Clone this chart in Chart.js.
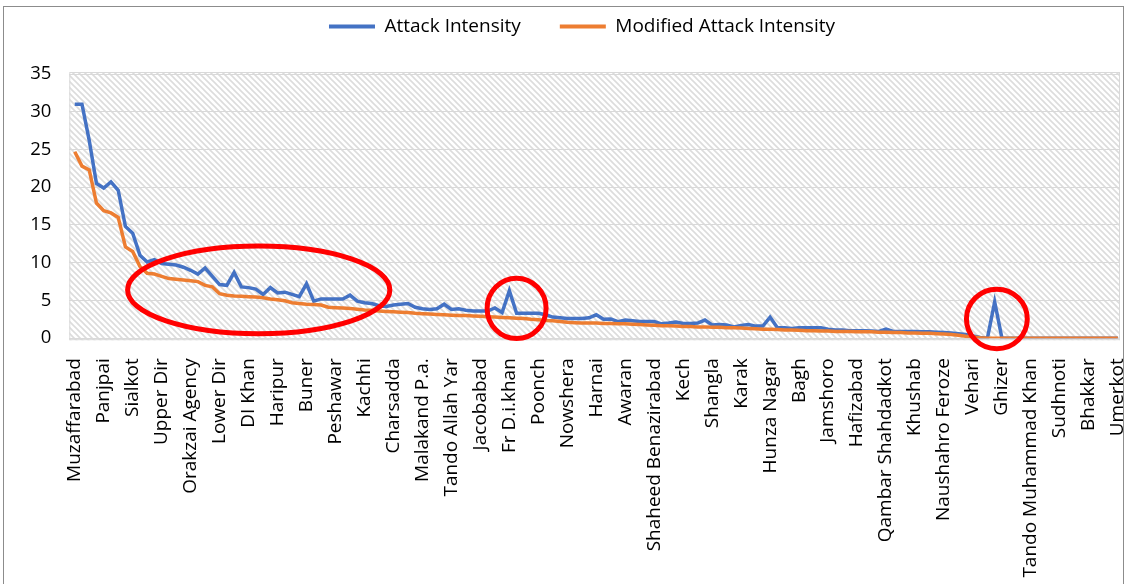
<!DOCTYPE html>
<html>
<head>
<meta charset="utf-8">
<script src="https://cdn.jsdelivr.net/npm/chart.js@4.4.1/dist/chart.umd.min.js"></script>
<style>
    html, body { margin: 0; padding: 0; background: #fff; }
    #wrap { width: 1127px; height: 584px; }
</style>
</head>
<body>
<div id="wrap"><canvas id="attackChart" width="1127" height="584"></canvas></div>
<script>
// Districts shown on the axis (every 4th category)
const districts = [
    "Muzaffarabad", "Panjpai", "Sialkot", "Upper Dir", "Orakzai Agency", "Lower Dir",
    "DI Khan", "Haripur", "Buner", "Peshawar", "Kachhi", "Charsadda", "Malakand P.a.",
    "Tando Allah Yar", "Jacobabad", "Fr D.i.khan", "Poonch", "Nowshera", "Harnai",
    "Awaran", "Shaheed Benazirabad", "Kech", "Shangla", "Karak", "Hunza Nagar", "Bagh",
    "Jamshoro", "Hafizabad", "Qambar Shahdadkot", "Khushab", "Naushahro Feroze",
    "Vehari", "Ghizer", "Tando Muhammad Khan", "Sudhnoti", "Bhakkar", "Umerkot"
];
const labelStep = 4;

const attackIntensity = [
    31.0, 31.0, 26.2, 20.5, 19.9, 20.7, 19.6, 14.8, 13.9, 11.0,
    10.1, 10.4, 9.9, 9.8, 9.7, 9.4, 9.0, 8.5, 9.3, 8.2,
    7.1, 7.0, 8.7, 6.8, 6.7, 6.5, 5.8, 6.7, 6.0, 6.1,
    5.8, 5.5, 7.2, 4.9, 5.2, 5.2, 5.2, 5.2, 5.7, 4.9,
    4.7, 4.6, 4.3, 4.2, 4.4, 4.5, 4.6, 4.1, 3.9, 3.8,
    3.9, 4.5, 3.8, 3.9, 3.7, 3.6, 3.6, 3.6, 4.0, 3.4,
    6.3, 3.3, 3.3, 3.3, 3.3, 3.1, 2.8, 2.7, 2.6, 2.6,
    2.6, 2.7, 3.1, 2.5, 2.55, 2.2, 2.4, 2.3, 2.2, 2.2,
    2.2, 1.9, 2.0, 2.15, 1.95, 1.95, 2.0, 2.4, 1.75, 1.8,
    1.75, 1.5, 1.7, 1.8, 1.6, 1.6, 2.8, 1.4, 1.4, 1.3,
    1.4, 1.4, 1.4, 1.4, 1.2, 1.1, 1.1, 1.0, 1.0, 1.0,
    0.95, 0.9, 1.2, 0.9, 0.9, 0.9, 0.9, 0.85, 0.85, 0.8,
    0.75, 0.7, 0.6, 0.5, 0.3, 0.1, 0, 4.8, 0, 0,
    0, 0, 0, 0, 0, 0, 0, 0, 0, 0,
    0, 0, 0, 0, 0
];

const modifiedIntensity = [
    24.7, 22.8, 22.3, 17.9, 16.9, 16.6, 16.0, 12.1, 11.5, 9.5,
    8.6, 8.5, 8.2, 7.9, 7.8, 7.7, 7.6, 7.5, 7.0, 6.8,
    5.9, 5.7, 5.6, 5.55, 5.5, 5.45, 5.35, 5.2, 5.1, 4.95,
    4.7, 4.6, 4.5, 4.45, 4.4, 4.1, 4.05, 4.0, 3.95, 3.85,
    3.75, 3.7, 3.6, 3.55, 3.5, 3.45, 3.4, 3.3, 3.25, 3.2,
    3.15, 3.1, 3.05, 3.0, 3.0, 2.95, 2.9, 2.85, 2.8, 2.75,
    2.7, 2.65, 2.6, 2.5, 2.45, 2.35, 2.3, 2.2, 2.1, 2.05,
    2.0, 2.0, 2.0, 1.95, 1.95, 1.9, 1.9, 1.85, 1.8, 1.75,
    1.7, 1.65, 1.65, 1.6, 1.55, 1.55, 1.5, 1.5, 1.45, 1.45,
    1.4, 1.4, 1.35, 1.3, 1.25, 1.2, 1.2, 1.15, 1.1, 1.1,
    1.05, 1.0, 1.0, 0.95, 0.95, 0.9, 0.9, 0.9, 0.85, 0.85,
    0.85, 0.8, 0.8, 0.75, 0.75, 0.7, 0.7, 0.65, 0.65, 0.6,
    0.55, 0.5, 0.4, 0.25, 0.15, 0.05, 0, 0, 0, 0,
    0, 0, 0, 0, 0, 0, 0, 0, 0, 0,
    0, 0, 0, 0, 0
];

// red highlight rings, in data units (category index, value)
const ringX = [25.4, 61.0, 127.3];
const ringY = [6.4, 3.95, 2.55];
const ringRx = [18.1, 4.07, 4.2];
const ringRy = [5.8, 4.0, 3.95];

// hatched plot background
const tile = document.createElement("canvas");
tile.width = 6;
tile.height = 6;
const tctx = tile.getContext("2d");
tctx.fillStyle = "#ffffff";
tctx.fillRect(0, 0, 6, 6);
tctx.strokeStyle = "#dcdcdc";
tctx.lineWidth = 1.6;
tctx.beginPath();
tctx.moveTo(-1, -1); tctx.lineTo(7, 7);
tctx.moveTo(-1, 5); tctx.lineTo(1, 7);
tctx.moveTo(5, -1); tctx.lineTo(7, 1);
tctx.stroke();

const backgroundPlugin = {
    id: "hatchBackground",
    afterLayout(chart) {
        // nudge the legend row up and right, like the original
        const lg = chart.legend;
        lg.top -= 28;
        lg.bottom -= 28;
        lg.left += 22;
        lg.right += 22;
    },
    beforeDraw(chart) {
        const { ctx, chartArea: a } = chart;
        ctx.save();
        ctx.fillStyle = "#fff";
        ctx.fillRect(0, 0, chart.width, chart.height);
        ctx.strokeStyle = "#8c8c8c";
        ctx.lineWidth = 1;
        ctx.strokeRect(3.5, 6.5, 1120, 600);
        ctx.fillStyle = ctx.createPattern(tile, "repeat");
        ctx.fillRect(a.left, a.top - 2, a.right - a.left, a.bottom - a.top + 4);
        ctx.strokeStyle = "#d9d9d9";
        ctx.strokeRect(a.left + 0.5, a.top - 1.5, a.right - a.left - 1, a.bottom - a.top + 3);
        ctx.restore();
    }
};

const ringPlugin = {
    id: "rings",
    afterDatasetsDraw(chart) {
        const { ctx, scales: { x, y } } = chart;
        ctx.save();
        ctx.strokeStyle = "#ff0000";
        ctx.lineWidth = 5;
        ringX.forEach((cx, k) => {
            const px = x.getPixelForValue(cx);
            const py = y.getPixelForValue(ringY[k]);
            const rx = Math.abs(x.getPixelForValue(cx + ringRx[k]) - px);
            const ry = Math.abs(y.getPixelForValue(ringY[k] + ringRy[k]) - py);
            ctx.beginPath();
            ctx.ellipse(px, py, rx, ry, 0, 0, Math.PI * 2);
            ctx.stroke();
        });
        ctx.restore();
    }
};

Chart.defaults.font.family = "'Open Sans', sans-serif";
Chart.defaults.color = "#000";

const ctx = document.getElementById("attackChart").getContext("2d");
new Chart(ctx, {
    type: "line",
    data: {
        datasets: [{
            label: "Attack Intensity",
            data: attackIntensity.map((v, i) => ({ x: i, y: v })),
            borderColor: "#4472c4",
            backgroundColor: "#4472c4",
            borderWidth: 3.5,
            pointRadius: 0,
            order: 1
        }, {
            label: "Modified Attack Intensity",
            data: modifiedIntensity.map((v, i) => ({ x: i, y: v })),
            borderColor: "#ed7d31",
            backgroundColor: "#ed7d31",
            borderWidth: 3.5,
            pointRadius: 0,
            order: 0
        }]
    },
    options: {
        responsive: false,
        animation: false,
        devicePixelRatio: 1,
        layout: { padding: { top: 6, right: 7, left: 0, bottom: 0 } },
        plugins: {
            tooltip: { enabled: false },
            legend: {
                position: "top",
                labels: {
                    boxWidth: 46,
                    boxHeight: 4,
                    padding: 39,
                    font: { size: 19 },
                    sort: (a, b) => a.datasetIndex - b.datasetIndex,
                    generateLabels: (chart) => Chart.defaults.plugins.legend.labels.generateLabels(chart)
                        .map(l => ({ ...l, lineWidth: 0 }))
                }
            }
        },
        scales: {
            x: {
                type: "linear",
                min: -0.75,
                max: attackIntensity.length - 1 + 0.3,
                grid: { display: false, drawTicks: false },
                border: { display: false },
                afterBuildTicks: (scale) => {
                    scale.ticks = districts.map((d, k) => ({ value: k * labelStep }));
                },
                afterFit: (scale) => {
                    scale.height = 584 - 338.2;
                    scale.paddingLeft = 0;
                    scale.paddingRight = 0;
                },
                ticks: {
                    autoSkip: false,
                    minRotation: 90,
                    maxRotation: 90,
                    padding: 20,
                    font: { size: 19 },
                    callback: (value) => districts[value / labelStep]
                }
            },
            y: {
                min: 0,
                max: 35,
                grid: { color: "#d9d9d9", drawTicks: false },
                border: { display: false },
                afterFit: (scale) => {
                    scale.width = 69.3;
                    scale.paddingTop = 0;
                    scale.paddingBottom = 0;
                },
                ticks: {
                    stepSize: 5,
                    padding: 18,
                    font: { size: 18.5 }
                }
            }
        }
    },
    plugins: [backgroundPlugin, ringPlugin]
});
</script>
</body>
</html>
